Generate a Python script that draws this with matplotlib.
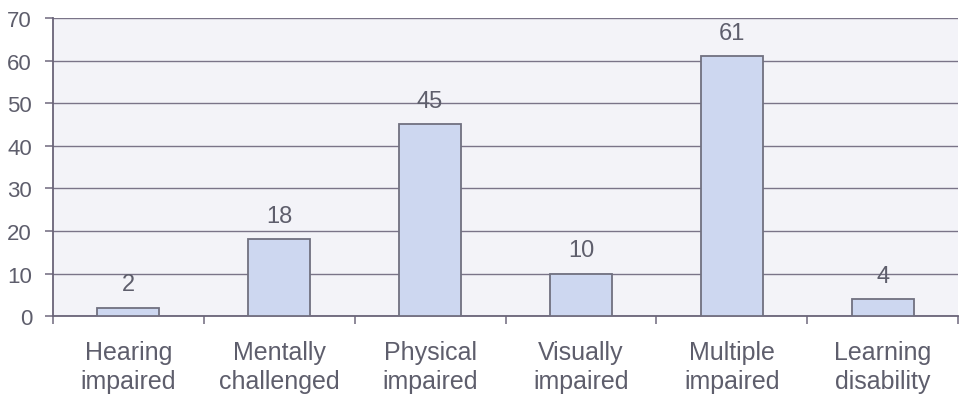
import numpy as np
import matplotlib.pyplot as plt

categories = ["Hearing\nimpaired", "Mentally\nchallenged", "Physical\nimpaired",
              "Visually\nimpaired", "Multiple\nimpaired", "Learning\ndisability"]
counts = [2, 18, 45, 10, 61, 4]
yticks = [0, 10, 20, 30, 40, 50, 60, 70]

plt.rcParams['font.family'] = ['Liberation Sans', 'DejaVu Sans']
text_col = '#5e5e6c'
grid_col = '#7a7488'

fig = plt.figure(figsize=(9.62, 4.02), dpi=100)
ax = fig.add_axes([0.055, 0.211, 0.941, 0.742])
ax.set_facecolor('#f3f3f8')

x = np.arange(len(counts))
ax.bar(x, counts, width=0.41, color='#cdd7f0', edgecolor='#707080', linewidth=1.3, zorder=3)
for xi, v in zip(x, counts):
    ax.text(xi, v + 2.9, str(v), ha='center', va='bottom', fontsize=17, color=text_col, zorder=4)

ax.set_xlim(-0.5, len(counts) - 0.5)
ax.set_ylim(0, 70)
ax.set_yticks(yticks)
ax.set_yticklabels([str(t) for t in yticks], fontsize=16, color=text_col)
ax.yaxis.grid(True, color=grid_col, linewidth=1.0, zorder=0)

# category labels centered, tick marks between categories
ax.set_xticks(x)
ax.set_xticklabels(categories, fontsize=18, color=text_col, linespacing=1.28)
ax.tick_params(axis='x', length=0, pad=17)
ax.set_xticks(np.arange(len(counts) + 1) - 0.5, minor=True)
ax.tick_params(axis='x', which='minor', length=6, color=grid_col, width=1.2)
ax.tick_params(axis='y', length=6, color=grid_col, width=1.2, pad=9)

for side in ['top', 'right']:
    ax.spines[side].set_visible(False)
ax.spines['left'].set_color('#6a6478')
ax.spines['left'].set_linewidth(1.3)
ax.spines['bottom'].set_color('#6a6478')
ax.spines['bottom'].set_linewidth(1.3)

fig.savefig('out.png', dpi=100)
